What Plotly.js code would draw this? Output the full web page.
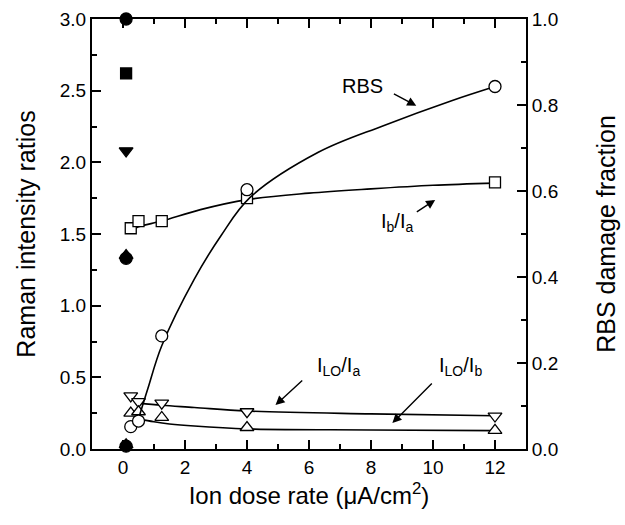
<!DOCTYPE html>
<html>
<head>
<meta charset="utf-8">
<script src="https://cdn.plot.ly/plotly-3.0.1.min.js"></script>
<style>html,body{margin:0;padding:0;background:#fff;}#chart{width:625px;height:525px;}</style>
</head>
<body>
<div id="chart"></div>
<script>
// ---- measured data ----
const doseRate = [0.25, 0.5, 1.25, 4, 12];
const ibIa = [1.54, 1.59, 1.59, 1.75, 1.86];
const iloIa = [0.37, 0.33, 0.32, 0.26, 0.23];
const iloIb = [0.25, 0.26, 0.22, 0.15, 0.13];
const rbsDamage = [0.052, 0.065, 0.263, 0.603, 0.843];

// unimplanted / zero-dose reference points (filled symbols)
const zeroDose = 0.1;
const filledCircleY = [3.0, 1.33, 0.02];
const filledSquareY = [2.62];
const filledDownY = [2.08];
const filledUpY = [1.35, 0.03];

// fitted guide curves
const rbsFitX = [0.5, 0.8, 1.25, 2.3, 3.16, 4.1, 6.3, 8.4, 10.6, 12];
const rbsFitY = [0.07, 0.14, 0.24, 0.395, 0.496, 0.585, 0.69, 0.752, 0.81, 0.843];
const ibIaFitX = [0.25, 0.5, 1.25, 2.5, 4, 6, 8, 10, 12];
const ibIaFitY = [1.52, 1.55, 1.59, 1.67, 1.74, 1.785, 1.815, 1.84, 1.855];
const iloIaFitX = [0.5, 1.25, 2.3, 4, 8, 12];
const iloIaFitY = [0.32, 0.305, 0.29, 0.265, 0.245, 0.232];
const iloIbFitX = [0.5, 1.0, 1.5, 2.3, 4, 8, 12];
const iloIbFitY = [0.21, 0.19, 0.175, 0.16, 0.14, 0.133, 0.128];

const xTickVals = [0, 2, 4, 6, 8, 10, 12];
const yTickVals = [0.0, 0.5, 1.0, 1.5, 2.0, 2.5, 3.0];
const y2TickVals = [0.0, 0.2, 0.4, 0.6, 0.8, 1.0];

const FONT = 'Liberation Sans, Arial, sans-serif';
const lineStyle = {color: 'black', width: 1.6, shape: 'spline'};

function fitTrace(x, y, yaxis) {
  return {x: x, y: y, mode: 'lines', line: lineStyle, yaxis: yaxis, hoverinfo: 'skip', showlegend: false};
}
function markerTrace(x, y, symbol, size, yaxis, filled) {
  return {
    x: x, y: y, mode: 'markers', yaxis: yaxis, showlegend: false, cliponaxis: false,
    marker: {symbol: symbol, size: size, color: filled ? 'black' : 'white',
             line: {color: 'black', width: 1.3}}
  };
}

const traces = [
  fitTrace(ibIaFitX, ibIaFitY, 'y'),
  fitTrace(iloIaFitX, iloIaFitY, 'y'),
  fitTrace(iloIbFitX, iloIbFitY, 'y'),
  fitTrace(rbsFitX, rbsFitY, 'y2'),
  markerTrace(doseRate, ibIa, 'square', 11, 'y', false),
  markerTrace(doseRate, iloIa, 'triangle-down', 12, 'y', false),
  markerTrace(doseRate, iloIb, 'triangle-up', 12, 'y', false),
  markerTrace(doseRate, rbsDamage, 'circle', 12, 'y2', false),
  markerTrace(filledCircleY.map(() => zeroDose), filledCircleY, 'circle', 12, 'y', true),
  markerTrace(filledSquareY.map(() => zeroDose), filledSquareY, 'square', 11, 'y', true),
  markerTrace(filledDownY.map(() => zeroDose), filledDownY, 'triangle-down', 12, 'y', true),
  markerTrace(filledUpY.map(() => zeroDose), filledUpY, 'triangle-up', 12, 'y', true)
];

function arrow(tx, ty, hx, hy) {
  return {x: hx, y: hy, ax: tx, ay: ty, xref: 'x', yref: 'y', axref: 'x', ayref: 'y',
          text: '', showarrow: true, arrowhead: 2, arrowsize: 1.3, arrowwidth: 1.4, arrowcolor: 'black'};
}
function label(x, y, text) {
  return {x: x, y: y, xref: 'x', yref: 'y', text: text, showarrow: false,
          font: {family: FONT, size: 20, color: 'black'}};
}

const axisCommon = {
  showgrid: false, zeroline: false, showline: true, linecolor: 'black', linewidth: 2,
  ticks: 'inside', ticklen: 9, tickwidth: 2, tickcolor: 'black',
  tickfont: {family: FONT, size: 19, color: 'black'}
};

const layout = {
  width: 625, height: 525,
  margin: {l: 92, r: 99, t: 19, b: 76},
  paper_bgcolor: 'white', plot_bgcolor: 'white',
  showlegend: false,
  xaxis: Object.assign({}, axisCommon, {
    range: [-1, 13], tickvals: xTickVals, ticktext: xTickVals.map(String), mirror: 'ticks',
    minor: {dtick: 1, tick0: 1, ticks: 'inside', ticklen: 5, tickwidth: 2, tickcolor: 'black'},
    title: {text: 'Ion dose rate (\u03BCA/cm<sup>2</sup>)', font: {family: FONT, size: 24, color: 'black'}, standoff: 10}
  }),
  yaxis: Object.assign({}, axisCommon, {
    range: [0, 3], tickvals: yTickVals, ticktext: yTickVals.map(v => v.toFixed(1)),
    minor: {dtick: 0.25, tick0: 0.25, ticks: 'inside', ticklen: 5, tickwidth: 2, tickcolor: 'black'},
    title: {text: 'Raman intensity ratios', font: {family: FONT, size: 25, color: 'black'}, standoff: 17}
  }),
  yaxis2: Object.assign({}, axisCommon, {
    range: [0, 1], overlaying: 'y', side: 'right', tickvals: y2TickVals, ticktext: y2TickVals.map(v => v.toFixed(1)),
    minor: {dtick: 0.1, tick0: 0.1, ticks: 'inside', ticklen: 5, tickwidth: 2, tickcolor: 'black'},
    title: {text: 'RBS damage fraction', font: {family: FONT, size: 25, color: 'black'}, standoff: 40}
  }),
  annotations: [
    label(7.72, 2.53, 'RBS'),
    arrow(8.69, 2.484, 9.46, 2.394),
    label(8.85, 1.58, 'I<sub>b</sub>/I<sub>a</sub>'),
    arrow(9.43, 1.647, 10.07, 1.738),
    label(6.95, 0.575, 'I<sub>LO</sub>/I<sub>a</sub>'),
    arrow(5.83, 0.488, 4.92, 0.307),
    label(10.88, 0.575, 'I<sub>LO</sub>/I<sub>b</sub>'),
    arrow(10.01, 0.468, 8.69, 0.181)
  ]
};

Plotly.newPlot('chart', traces, layout, {staticPlot: true, displayModeBar: false});
</script>
</body>
</html>
